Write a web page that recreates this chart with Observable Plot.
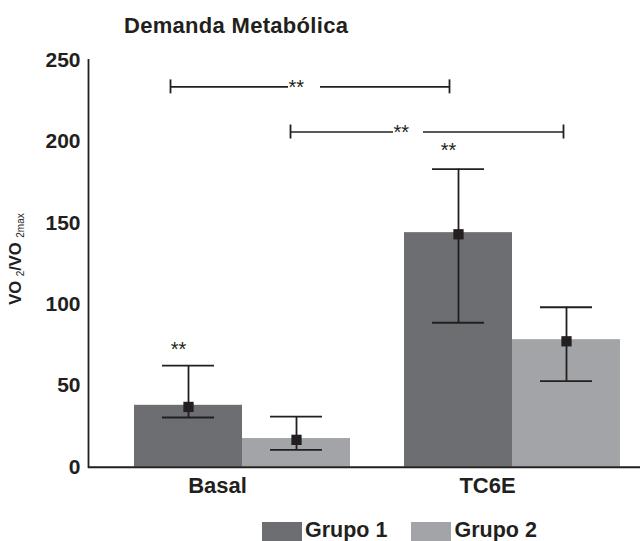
<!DOCTYPE html>
<html><head><meta charset="utf-8">
<script src="https://cdn.jsdelivr.net/npm/d3@7"></script>
<script src="https://cdn.jsdelivr.net/npm/@observablehq/plot@0.6"></script>
<style>
body{margin:0;background:#fff;font-family:"Liberation Sans",Arial,sans-serif;color:#231f20;}
#wrap{position:relative;width:640px;height:541px;overflow:hidden;}
#title{font-weight:bold;font-size:22px;line-height:22px;height:40px;box-sizing:border-box;padding:15px 0 0 124px;white-space:nowrap;letter-spacing:0.3px;}
#chart svg{display:block;}
#legend{display:flex;align-items:flex-start;padding:12px 0 0 262px;font-weight:bold;font-size:21.5px;line-height:21px;}
#legend .sw{width:40px;height:19px;margin-right:3px;}
#legend .lab{margin-top:-2px;margin-right:24px;white-space:nowrap;}
#ylabel{position:absolute;left:18px;top:259px;transform:translate(-50%,-50%) rotate(-90deg);white-space:nowrap;font-weight:bold;font-size:16.5px;line-height:16px;}
#ylabel sub{font-size:10px;vertical-align:-3px;font-weight:normal;}
</style></head><body>
<div id="wrap">
<div id="title">Demanda Metabólica</div>
<div id="chart"></div>
<div id="legend"></div>
<div id="ylabel">VO <sub>2</sub>/VO <sub>2max</sub></div>
</div>
<script>
// ---- data ----
const categories = ["Basal", "TC6E"];
const groups = ["Grupo 1", "Grupo 2"];
const grupo1Bar = [38, 144];
const grupo2Bar = [17.6, 78.3];
const grupo1Mean = [37, 143];
const grupo2Mean = [16.8, 77.3];
const grupo1Low = [30.5, 88.7];
const grupo1High = [62.4, 183];
const grupo2Low = [10.6, 52.8];
const grupo2High = [31, 98.2];
const yTicks = [0, 50, 100, 150, 200, 250];
const bracketLevels = [233.5, 205.8];   // Basal vs TC6E for Grupo 1, Grupo 2
const bracketLabels = ["**", "**"];
const singleSigLevels = [72.5, 194.5];  // "**" above Grupo 1 at Basal, TC6E
const singleSigLabel = "**";

// ---- styles ----
const ink = "#231f20";
const groupColors = ["#6d6e71", "#a3a4a7"];

const rows = [];
categories.forEach((c, i) => {
  rows.push({category: c, group: groups[0], bar: grupo1Bar[i], mean: grupo1Mean[i], low: grupo1Low[i], high: grupo1High[i]});
  rows.push({category: c, group: groups[1], bar: grupo2Bar[i], mean: grupo2Mean[i], low: grupo2Low[i], high: grupo2High[i]});
});
const g1 = rows.filter(d => d.group === groups[0]);
const g2 = rows.filter(d => d.group === groups[1]);

function groupMarks(data, side) {
  const off = 54 * side;
  const barL = side < 0 ? 27 : 135, barR = side < 0 ? 135 : 27;
  const capL = side < 0 ? 55 : 163, capR = side < 0 ? 163 : 55;
  return [
    Plot.barY(data, {x: "category", y: "bar", fill: "group", insetLeft: barL, insetRight: barR}),
    Plot.ruleX(data, {x: "category", y1: "low", y2: "high", dx: off, stroke: ink, strokeWidth: 1.8}),
    Plot.ruleY(data, {x1: "category", x2: "category", y: "high", insetLeft: capL, insetRight: capR, stroke: ink, strokeWidth: 1.8}),
    Plot.ruleY(data, {x1: "category", x2: "category", y: "low", insetLeft: capL, insetRight: capR, stroke: ink, strokeWidth: 1.8}),
    Plot.dot(data, {x: "category", y: "mean", dx: off, symbol: "square", r: 5.8, fill: ink})
  ];
}

const b1 = [{a: categories[0], b: categories[1], level: bracketLevels[0], label: bracketLabels[0]}];
const b2 = [{a: categories[0], b: categories[1], level: bracketLevels[1], label: bracketLabels[1]}];
const singles = categories.map((c, i) => ({category: c, level: singleSigLevels[i]}));
const lineStyle = {stroke: ink, strokeWidth: 1.6};
const endStyle = {stroke: ink, strokeWidth: 1.8, insetTop: -7, insetBottom: -7};
const starStyle = {fontSize: 20, fill: ink, textAnchor: "start", dy: 1};

const plot = Plot.plot({
  width: 640,
  height: 470,
  marginLeft: 88,
  marginRight: 0,
  marginTop: 19.5,
  marginBottom: 43.3,
  style: {color: ink, fontFamily: "'Liberation Sans', Arial, sans-serif", background: "#fff"},
  x: {type: "band", domain: categories, range: [107, 647], padding: 0},
  y: {domain: [0, 250]},
  color: {domain: groups, range: groupColors},
  marks: [
    ...groupMarks(g1, -1),
    ...groupMarks(g2, 1),
    // bracket 1
    Plot.ruleX(b1, {x: "a", y1: "level", y2: "level", dx: -72, ...endStyle}),
    Plot.ruleX(b1, {x: "b", y1: "level", y2: "level", dx: -63, ...endStyle}),
    Plot.ruleY(b1, {x1: "a", x2: "a", y: "level", insetLeft: 63, insetRight: 89, ...lineStyle}),
    Plot.ruleY(b1, {x1: "a", x2: "b", y: "level", insetLeft: 213, insetRight: 198, ...lineStyle}),
    Plot.text(b1, {x: "a", y: "level", text: "label", dx: 46, ...starStyle}),
    // bracket 2
    Plot.ruleX(b2, {x: "a", y1: "level", y2: "level", dx: 48, ...endStyle}),
    Plot.ruleX(b2, {x: "b", y1: "level", y2: "level", dx: 51, ...endStyle}),
    Plot.ruleY(b2, {x1: "a", x2: "a", y: "level", insetLeft: 183, insetRight: -16, ...lineStyle}),
    Plot.ruleY(b2, {x1: "b", x2: "b", y: "level", insetLeft: 46, insetRight: 84, ...lineStyle}),
    Plot.text(b2, {x: "a", y: "level", text: "label", dx: 151, ...starStyle}),
    // single significance
    Plot.text(singles, {x: "category", y: "level", text: () => singleSigLabel, dx: -64, fontSize: 20, fill: ink}),
    // axes
    Plot.axisY({ticks: yTicks, tickSize: 0, tickPadding: 8, fontSize: 21, fontWeight: "bold", label: null}),
    Plot.axisX({tickSize: 0, tickPadding: 10, fontSize: 22, fontWeight: "bold", dx: -25, label: null}),
    Plot.frame({anchor: "left", stroke: ink, strokeWidth: 1.8}),
    Plot.ruleY([0], {stroke: ink, strokeWidth: 2})
  ]
});
document.getElementById("chart").appendChild(plot);

const legend = document.getElementById("legend");
groups.forEach((g, i) => {
  const sw = document.createElement("div");
  sw.className = "sw";
  sw.style.background = groupColors[i];
  const lab = document.createElement("div");
  lab.className = "lab";
  lab.textContent = g;
  legend.appendChild(sw);
  legend.appendChild(lab);
});
</script>
</body></html>
